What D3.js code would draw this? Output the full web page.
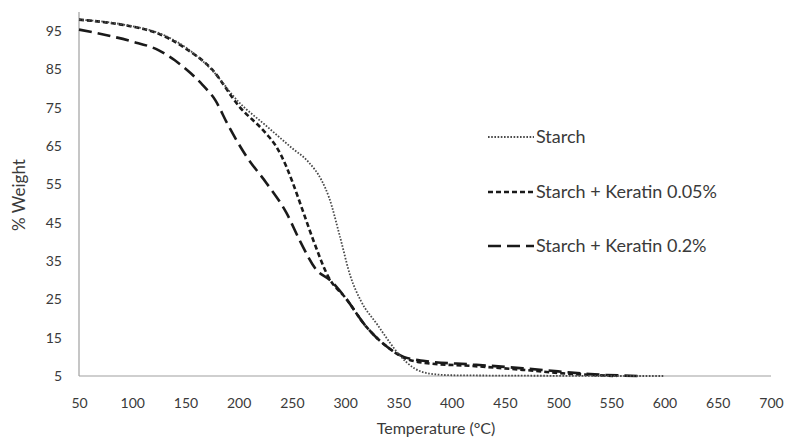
<!DOCTYPE html>
<html><head><meta charset="utf-8">
<script src="https://cdn.jsdelivr.net/npm/d3@7"></script>
<style>body{margin:0;background:#fff;}svg{display:block;font-family:Lato,"Open Sans",sans-serif;}</style>
</head><body>
<svg id="c" width="786" height="440"></svg>
<script>
const xTicks = [50,100,150,200,250,300,350,400,450,500,550,600,650,700];
const yTicks = [5,15,25,35,45,55,65,75,85,95];
const seriesNames = ["Starch","Starch + Keratin 0.05%","Starch + Keratin 0.2%"];

const starchT = [50,75,100,125,150,175,200,225,250,265,278,285,295,305,315,330,340,350,365,380,400,450,500,550,600];
const starchW = [98,97.4,96.3,94.5,90.8,84.8,76.5,70.5,64.5,61,56,51.5,41.5,31,24.5,18.5,14.5,10.8,7,5.6,5.2,5.1,5.05,5.0,5.0];

const k005T = [50,75,100,125,150,175,200,225,235,245,250,260,270,285,300,320,340,355,375,420,467,500,530,555];
const k005W = [98,97.3,96.2,94.3,90.5,85,75.5,68.5,65,59.5,56,48.3,40.5,30.5,25.5,17.8,12.5,9.8,8.4,7.6,6.6,5.8,5.3,5.0];

const k02T = [50,75,100,125,140,155,166,178,190,208,226,245,258,273,286,300,320,340,355,375,420,467,500,530,577];
const k02W = [95.4,94,92.3,90,87.4,84,81,77,70.5,62,55.4,47.5,40,32.7,30,25.5,17.8,12.5,10,8.9,8,7,6.2,5.5,5.0];

const svg = d3.select("#c");
const x = d3.scaleLinear().domain([50,700]).range([79,771]);
const y = d3.scaleLinear().domain([5,100]).range([376,12]);
const txt = "#3a3a3a";

svg.append("line").attr("x1",x(50)).attr("x2",x(50)).attr("y1",y(100)).attr("y2",y(5)).attr("stroke","#a0a0a0").attr("stroke-width",1.2);
svg.append("line").attr("x1",x(50)).attr("x2",x(700)).attr("y1",y(5)).attr("y2",y(5)).attr("stroke","#a0a0a0").attr("stroke-width",1.2);

const xa = d3.axisBottom(x).tickValues(xTicks).tickSize(0).tickPadding(0);
const gx = svg.append("g").attr("transform",`translate(0,408)`).call(xa);
gx.select(".domain").remove();
gx.selectAll("text").attr("fill",txt).style("font-size","14px").style("font-family","Lato,sans-serif").attr("y",0).attr("dy","0");

const ya = d3.axisLeft(y).tickValues(yTicks).tickSize(0).tickPadding(0);
const gy = svg.append("g").attr("transform",`translate(62,0)`).call(ya);
gy.select(".domain").remove();
gy.selectAll("text").attr("fill",txt).style("font-size","14px").style("font-family","Lato,sans-serif");

svg.append("text").attr("x",436).attr("y",434).attr("text-anchor","middle").attr("fill",txt)
  .style("font-size","16px").text("Temperature  (°C)");
svg.append("text").attr("transform","translate(19,195) rotate(-90)").attr("text-anchor","middle").attr("dy","0.35em").attr("fill",txt)
  .style("font-size","17px").text("% Weight");

const line = d3.line().x(d=>x(d[0])).y(d=>y(d[1])).curve(d3.curveMonotoneX);
const styles = [
  {dash:"1.6,1.6", w:1.8, c:"#4a4a4a"},
  {dash:"5,3", w:2.6, c:"#1a1a1a"},
  {dash:"13,6", w:2.6, c:"#1a1a1a"}
];
const data = [d3.zip(starchT,starchW), d3.zip(k005T,k005W), d3.zip(k02T,k02W)];
[2,1,0].forEach(i=>{
  svg.append("path").attr("d",line(data[i])).attr("fill","none")
    .attr("stroke",styles[i].c).attr("stroke-width",styles[i].w).attr("stroke-dasharray",styles[i].dash);
});

const ly = [137,192,246];
seriesNames.forEach((n,i)=>{
  svg.append("line").attr("x1",488).attr("x2",534).attr("y1",ly[i]).attr("y2",ly[i])
    .attr("stroke",styles[i].c).attr("stroke-width",styles[i].w).attr("stroke-dasharray",styles[i].dash);
  svg.append("text").attr("x",536).attr("y",ly[i]).attr("dy","0.35em").attr("fill",txt)
    .style("font-size","18px").text(n);
});
</script>
</body></html>
